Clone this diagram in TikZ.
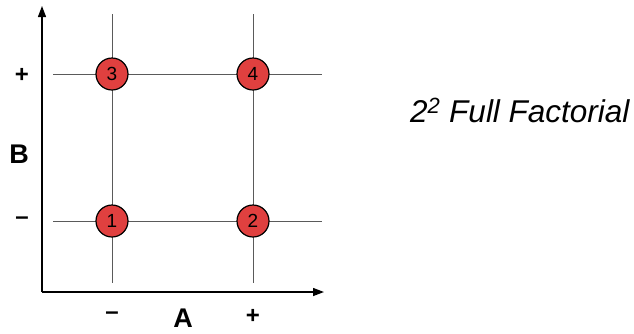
\documentclass[tikz,border=0pt]{standalone}
\usepackage{fontspec}
\setmainfont{Liberation Sans}
\usetikzlibrary{arrows.meta}
\definecolor{ptred}{HTML}{E0403F}
\definecolor{gridgray}{HTML}{5A5A5A}
\tikzset{
  gridline/.style={draw=gridgray, line width=1pt},
  axisline/.style={draw=black, line width=1.3pt, -{Triangle[length=11pt,width=8pt]}},
  runpt/.style={circle, draw=black, line width=1.2pt, fill=ptred, minimum size=32pt, inner sep=0pt, font=\fontsize{19}{21}\selectfont},
  axlabel/.style={font=\fontsize{27}{30}\selectfont\bfseries, inner sep=0pt},
  signlabel/.style={font=\fontsize{24}{26}\selectfont\bfseries, inner sep=0pt}
}
\begin{document}
\begin{tikzpicture}[x=1pt,y=-1pt]
\useasboundingbox (0,0) rectangle (634,333);
% grid lines
\coordinate (v1t) at (112,14); \coordinate (v1b) at (112,283);
\coordinate (v2t) at (253,14); \coordinate (v2b) at (253,283);
\coordinate (h1l) at (53,74);  \coordinate (h1r) at (322,74);
\coordinate (h2l) at (53,221); \coordinate (h2r) at (322,221);
\draw[gridline] (v1t) -- (v1b);
\draw[gridline] (v2t) -- (v2b);
\draw[gridline] (h1l) -- (h1r);
\draw[gridline] (h2l) -- (h2r);
% axes
\coordinate (o) at (42,292);
\coordinate (ytip) at (42,6);
\coordinate (xtip) at (324,292);
\draw[axisline] (o) -- (ytip);
\draw[axisline] (o) -- (xtip);
% run points
\node[runpt] (c3) at (112,74) {3};
\node[runpt] (c4) at (253,74) {4};
\node[runpt] (c1) at (112,221) {1};
\node[runpt] (c2) at (253,221) {2};
% labels
\node[signlabel] (bp) at (22,75) {+};
\node[signlabel] (bm) at (22,221) {–};
\node[axlabel] (bl) at (19,154) {B};
\node[signlabel] (am) at (112,316) {–};
\node[axlabel] (al) at (183,318) {A};
\node[signlabel] (ap) at (253,316) {+};
\node[font=\fontsize{31.5}{34}\selectfont\itshape, inner sep=0pt, anchor=west] (title) at (410,110) {2\textsuperscript{2} Full Factorial};
\end{tikzpicture}
\end{document}
